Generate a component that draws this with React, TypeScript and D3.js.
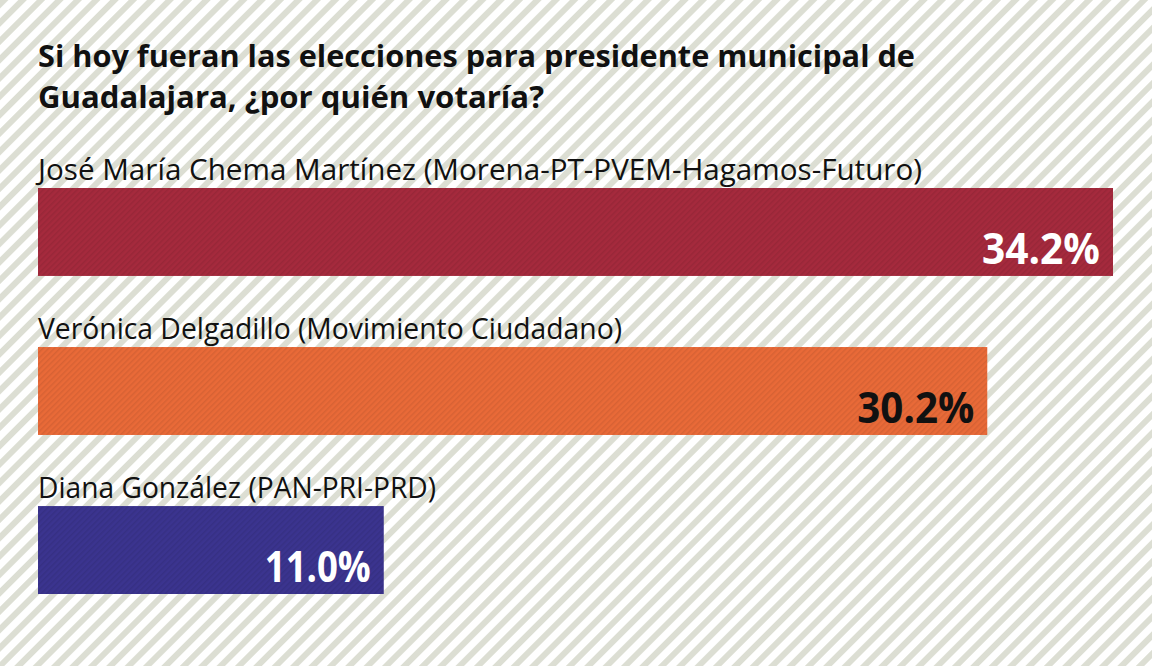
import React from "react";
import * as d3 from "d3";

const titleLines = [
  "Si hoy fueran las elecciones para presidente municipal de",
  "Guadalajara, ¿por quién votaría?",
];
const candidates = [
  "José María Chema Martínez (Morena-PT-PVEM-Hagamos-Futuro)",
  "Verónica Delgadillo (Movimiento Ciudadano)",
  "Diana González (PAN-PRI-PRD)",
];
const values = [34.2, 30.2, 11.0];
const valueLabels = ["34.2%", "30.2%", "11.0%"];
const barColors = ["#a52a3d", "#e96a38", "#3b348f"];
const labelColors = ["#ffffff", "#111111", "#ffffff"];

const titleWidths = [877, 506];
const candidateWidths = [884, 584, 398];
const valueWidths = [118, 117, 106];

const W = 1152;
const H = 666;

export default function App() {
  const x = d3.scaleLinear().domain([0, 34.2]).range([38, 1113]);
  const y = d3
    .scaleBand<number>()
    .domain(d3.range(candidates.length))
    .range([188, 594])
    .paddingInner(0.447)
    .paddingOuter(0);
  const bw = y.bandwidth();
  const font = "'Open Sans', 'Noto Sans', sans-serif";
  return (
    <div style={{ position: "absolute", left: 0, top: 0 }}>
      <svg width={W} height={H} style={{ display: "block" }}>
        <defs>
          <pattern
            id="bg"
            width={13}
            height={13}
            patternUnits="userSpaceOnUse"
            patternTransform="rotate(45)"
          >
            <rect width={13} height={13} fill="#ffffff" />
            <rect width={6} height={13} fill="#dcded3" />
          </pattern>
          {barColors.map((c, i) => (
            <pattern
              key={i}
              id={`bar${i}`}
              width={4}
              height={4}
              patternUnits="userSpaceOnUse"
              patternTransform="rotate(45)"
            >
              <rect width={4} height={4} fill={c} />
              <rect width={1.5} height={4} fill="#000" opacity={0.08} />
            </pattern>
          ))}
        </defs>
        <rect width={W} height={H} fill="url(#bg)" />
        {titleLines.map((t, i) => (
          <text
            key={t}
            x={38}
            y={67 + i * 41}
            fontFamily={font}
            fontWeight={700}
            fontSize={29.5}
            textLength={titleWidths[i]}
            lengthAdjust="spacingAndGlyphs"
            fill="#111"
          >
            {t}
          </text>
        ))}
        {candidates.map((c, i) => {
          const by = y(i)!;
          return (
            <g key={c}>
              <text
                x={38}
                y={by - 8}
                fontFamily={font}
                fontWeight={500}
                fontSize={29.5}
                textLength={candidateWidths[i]}
                lengthAdjust="spacingAndGlyphs"
                fill="#111"
              >
                {c}
              </text>
              <rect
                x={x(0)}
                y={by}
                width={x(values[i]) - x(0)}
                height={bw}
                fill={`url(#bar${i})`}
              />
              <text
                x={x(values[i]) - 13}
                y={by + bw - 12}
                textAnchor="end"
                fontFamily={font}
                fontWeight={700}
                fontSize={43}
                textLength={valueWidths[i]}
                lengthAdjust="spacingAndGlyphs"
                fill={labelColors[i]}
              >
                {valueLabels[i]}
              </text>
            </g>
          );
        })}
      </svg>
    </div>
  );
}
